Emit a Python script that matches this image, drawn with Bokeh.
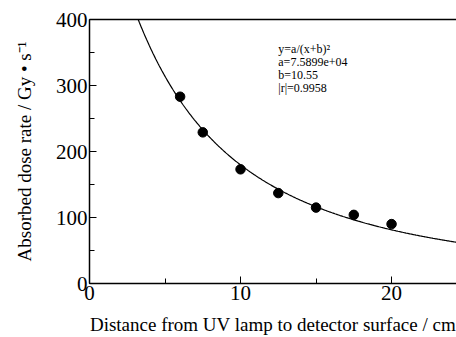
import numpy as np
from bokeh.plotting import figure
from bokeh.models import SingleIntervalTicker, FixedTicker, Label, LinearAxis, Range1d
from bokeh.embed import file_html
from bokeh.resources import INLINE

# Data
distance_cm = [6.0, 7.5, 10.0, 12.5, 15.0, 17.5, 20.0]
dose_rate = [283, 229, 173, 137, 115, 104, 90]

# Fit parameters shown in the annotation: y = a/(x+b)^2
fit_a = 7.5899e4
fit_b = 10.55
fit_r = 0.9958

FONT = "Liberation Serif"

X_END = 24.3

p = figure(width=456, height=337, output_backend="svg", toolbar_location=None,
           x_range=Range1d(0, X_END), y_range=Range1d(0, 400),
           min_border_left=89, min_border_top=19, min_border_right=0,
           min_border_bottom=52)
p.outline_line_color = None
p.grid.visible = False
p.background_fill_color = "white"

# Fitted curve
xc = np.linspace(0.5, X_END, 400)
yc = fit_a / (xc + fit_b) ** 2
p.line(xc, yc, line_color="black", line_width=1.2)

# Data points
p.scatter(distance_cm, dose_rate, size=9.5, color="black")

# Axes
for ax, interval in ((p.xaxis[0], 10), (p.yaxis[0], 100)):
    ax.ticker = SingleIntervalTicker(interval=interval, num_minor_ticks=2)
    ax.axis_line_color = "black"
    ax.axis_line_width = 1.5
    ax.major_tick_in = 7
    ax.major_tick_out = 0
    ax.minor_tick_in = 5
    ax.minor_tick_out = 0
    ax.major_tick_line_color = "black"
    ax.minor_tick_line_color = "black"
    ax.major_label_text_font = FONT
    ax.major_label_text_font_size = "21px"
    ax.major_label_text_color = "black"
    ax.axis_label_text_font = FONT
    ax.axis_label_text_font_style = "normal"
    ax.axis_label_text_font_size = "19px"
    ax.axis_label_text_color = "black"
    ax.major_label_standoff = 2

p.xaxis[0].axis_label = "Distance from UV lamp to detector surface / cm"
p.yaxis[0].axis_label = "Absorbed dose rate / Gy • s⁻¹"
p.xaxis[0].axis_label_standoff = 11
p.yaxis[0].axis_label_standoff = 18

# Top border line
top = LinearAxis(ticker=FixedTicker(ticks=[]), major_tick_line_color=None,
                 minor_tick_line_color=None, axis_line_width=1.5,
                 axis_line_color="black")
p.add_layout(top, "above")

# Annotation
ann = ["y=a/(x+b)²", "a=%.4e" % fit_a, "b=%.2f" % fit_b, "|r|=%.4f" % fit_r]
for i, t in enumerate(ann):
    p.add_layout(Label(x=12.5, y=355 - i * 19.5, text=t, text_font=FONT,
                       text_font_size="12px", text_baseline="middle",
                       text_color="black"))

open("out.html", "w").write(file_html(p, INLINE))
